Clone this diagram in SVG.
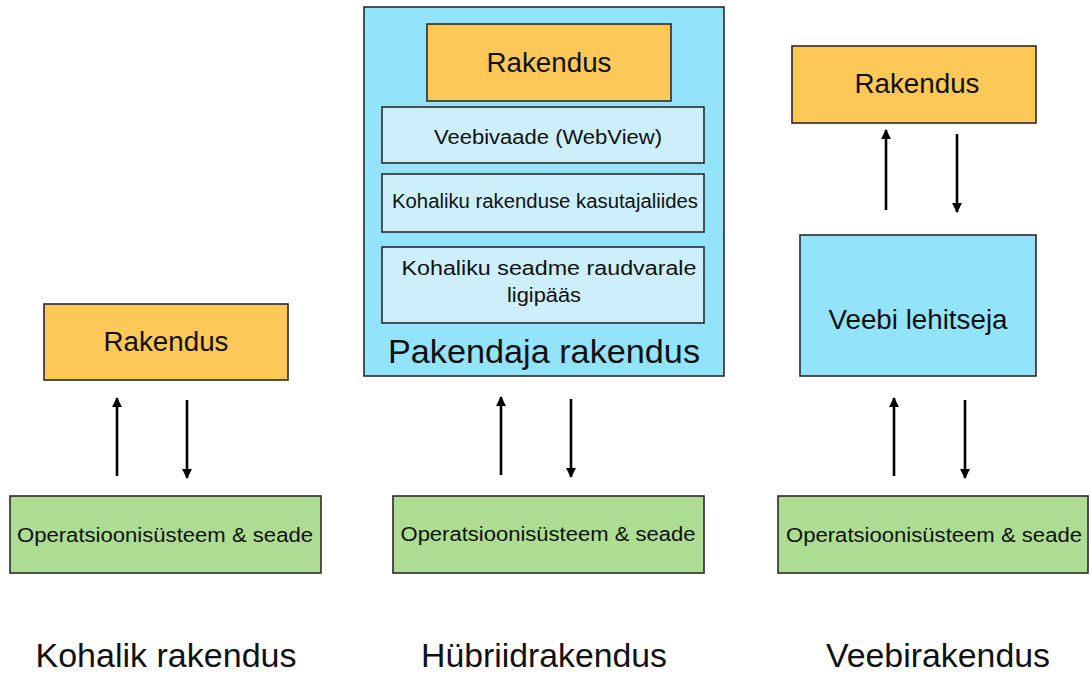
<svg xmlns="http://www.w3.org/2000/svg" width="1090" height="675" viewBox="0 0 1090 675">
<defs>
<style>
text{font-family:"Liberation Sans",Arial,sans-serif;fill:#111;text-anchor:middle}
.box{stroke:#2b2b2b;stroke-width:1.6}
.app{fill:#FEC858}
.wrap{fill:#93E3FA}
.layer{fill:#CCEFFB}
.os{fill:#ADDD93}
.l{font-size:27px}
.s{font-size:20px}
.t{font-size:33px}
.arr{stroke:#000;stroke-width:2.6;fill:none;marker-end:url(#ah)}
</style>
<marker id="ah" viewBox="0 0 10 10" refX="9" refY="5" markerWidth="4" markerHeight="3.8" orient="auto" markerUnits="strokeWidth">
<path d="M0,0 L10,5 L0,10 z" fill="#000"/>
</marker>
</defs>
<rect width="1090" height="675" fill="#fff"/>

<g id="local-app">
<rect class="box app" x="44" y="304" width="244" height="76"/>
<text class="l" x="166" y="351" textLength="125" lengthAdjust="spacingAndGlyphs">Rakendus</text>
</g>
<g id="local-os">
<rect class="box os" x="10" y="496" width="311" height="77"/>
<text class="s" x="165" y="542" textLength="296" lengthAdjust="spacingAndGlyphs">Operatsioonisüsteem &amp; seade</text>
</g>

<g id="wrapper">
<rect class="box wrap" x="364" y="7" width="360" height="369"/>
<text class="t" x="544" y="363" textLength="312" lengthAdjust="spacingAndGlyphs">Pakendaja rakendus</text>
</g>
<g id="hybrid-app">
<rect class="box app" x="427" y="24" width="244" height="77"/>
<text class="l" x="549" y="72" textLength="125" lengthAdjust="spacingAndGlyphs">Rakendus</text>
</g>
<g id="webview">
<rect class="box layer" x="382" y="107" width="322" height="56"/>
<text class="s" x="548" y="144" textLength="228" lengthAdjust="spacingAndGlyphs">Veebivaade (WebView)</text>
</g>
<g id="native-ui">
<rect class="box layer" x="382" y="174" width="322" height="58"/>
<text class="s" x="545" y="208" textLength="306" lengthAdjust="spacingAndGlyphs">Kohaliku rakenduse kasutajaliides</text>
</g>
<g id="hw-access">
<rect class="box layer" x="382" y="247" width="322" height="76"/>
<text class="s" x="549" y="275" textLength="295" lengthAdjust="spacingAndGlyphs">Kohaliku seadme raudvarale</text>
<text class="s" x="544" y="302" textLength="74" lengthAdjust="spacingAndGlyphs">ligipääs</text>
</g>
<g id="hybrid-os">
<rect class="box os" x="393" y="496" width="311" height="77"/>
<text class="s" x="548" y="541" textLength="295" lengthAdjust="spacingAndGlyphs">Operatsioonisüsteem &amp; seade</text>
</g>

<g id="web-app">
<rect class="box app" x="792" y="46" width="244" height="77"/>
<text class="l" x="917" y="93" textLength="125" lengthAdjust="spacingAndGlyphs">Rakendus</text>
</g>
<g id="browser">
<rect class="box wrap" x="800" y="235" width="236" height="141"/>
<text class="l" x="918" y="329" textLength="179" lengthAdjust="spacingAndGlyphs">Veebi lehitseja</text>
</g>
<g id="web-os">
<rect class="box os" x="778" y="496" width="310" height="77"/>
<text class="s" x="934" y="542" textLength="296" lengthAdjust="spacingAndGlyphs">Operatsioonisüsteem &amp; seade</text>
</g>

<g id="connectors">
<line class="arr" x1="117" y1="476" x2="117" y2="398"/>
<line class="arr" x1="187" y1="400" x2="187" y2="478"/>
<line class="arr" x1="501" y1="475" x2="501" y2="397"/>
<line class="arr" x1="571" y1="399" x2="571" y2="477"/>
<line class="arr" x1="886" y1="210" x2="886" y2="130"/>
<line class="arr" x1="957" y1="134" x2="957" y2="212"/>
<line class="arr" x1="894" y1="476" x2="894" y2="398"/>
<line class="arr" x1="965" y1="400" x2="965" y2="478"/>
</g>

<g id="captions">
<text class="t" x="166" y="667" textLength="261" lengthAdjust="spacingAndGlyphs">Kohalik rakendus</text>
<text class="t" x="544" y="667" textLength="246" lengthAdjust="spacingAndGlyphs">Hübriidrakendus</text>
<text class="t" x="938" y="667" textLength="224" lengthAdjust="spacingAndGlyphs">Veebirakendus</text>
</g>
</svg>
